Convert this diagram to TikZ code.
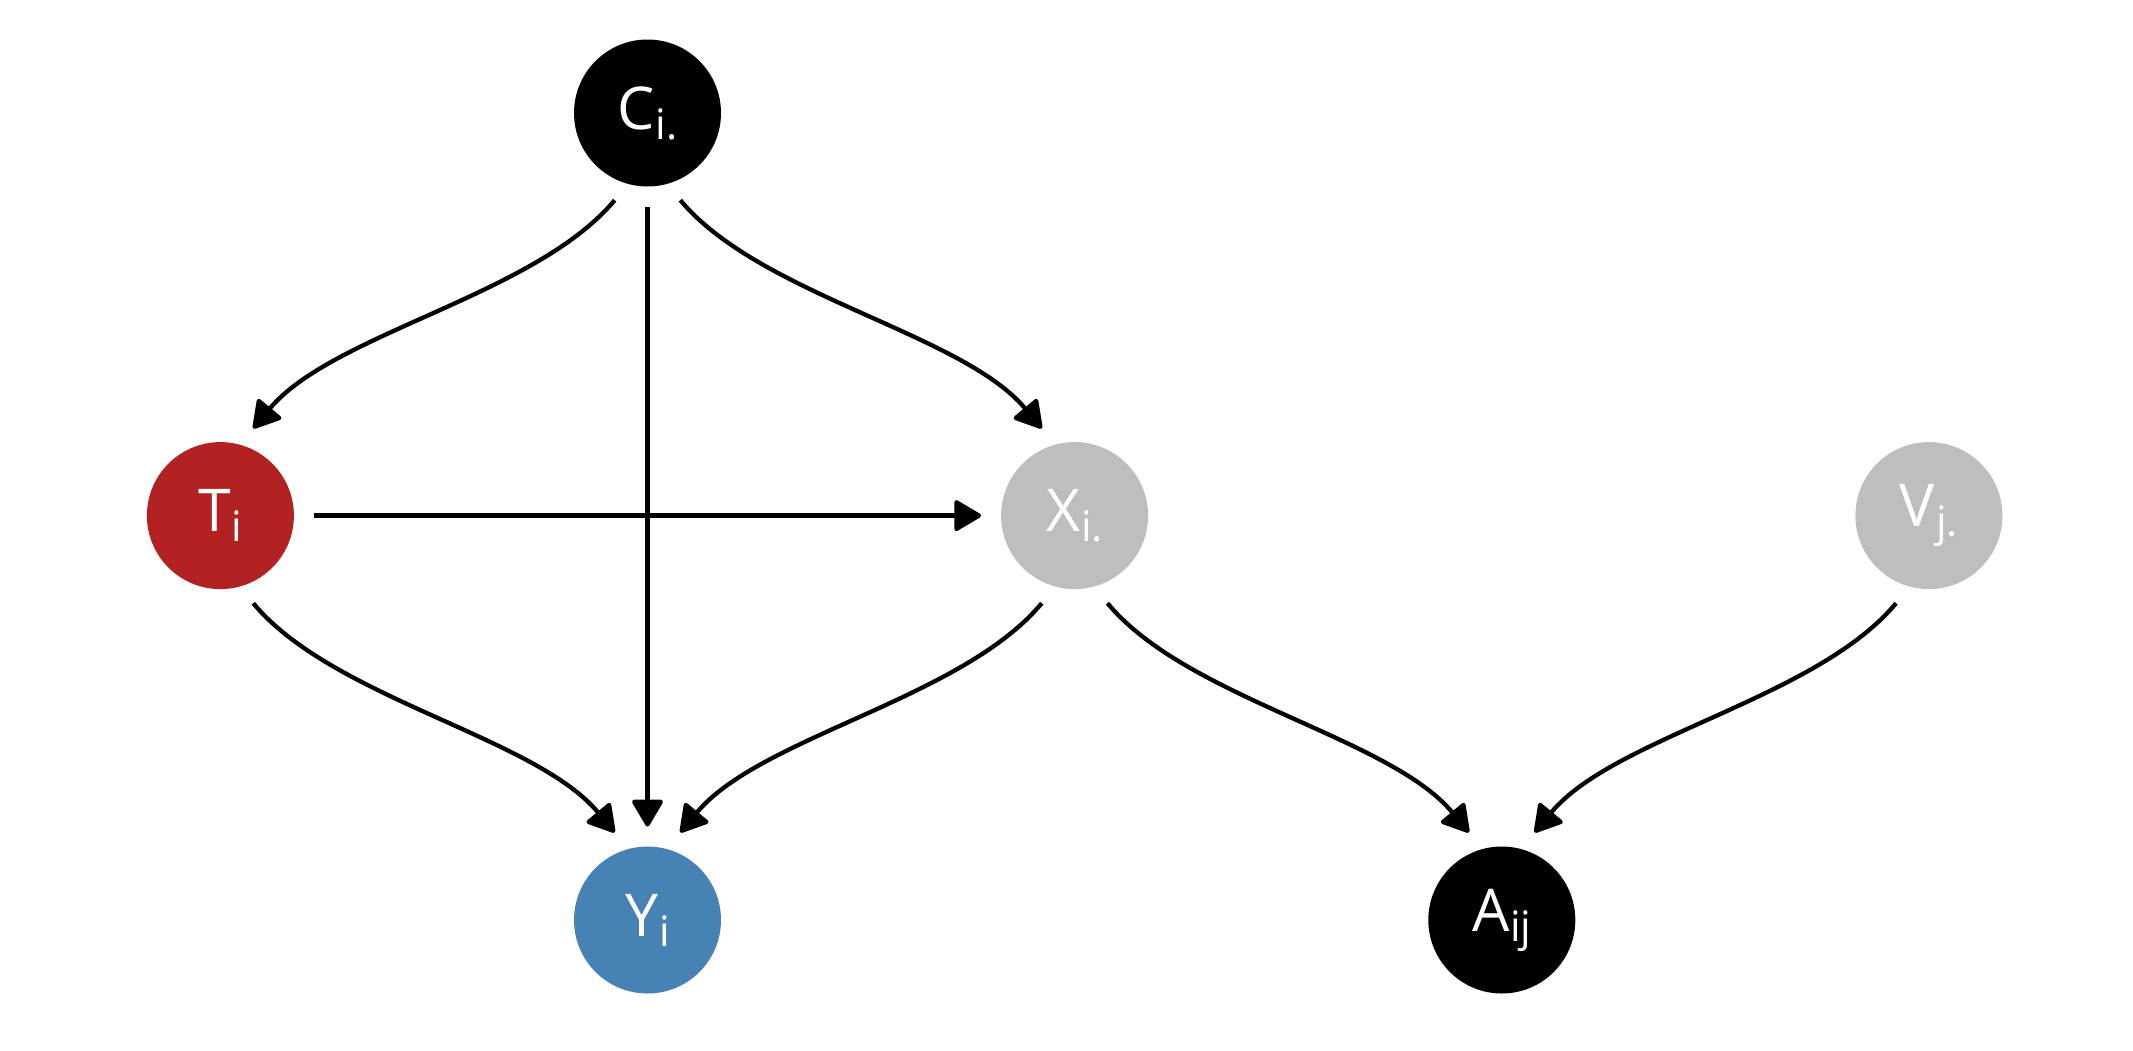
\documentclass[tikz,border=0pt]{standalone}
\usepackage{fontspec}
\setmainfont{Open Sans}
\usetikzlibrary{arrows.meta,calc}
\definecolor{tred}{HTML}{B22222}
\definecolor{yblue}{HTML}{4682B4}
\definecolor{lgray}{HTML}{BEBEBE}
\newcommand\subtxt[1]{\kern1pt\raisebox{-10pt}{\fontsize{42}{42}\selectfont #1}}
\newcommand\dagarc[2]{\draw[edge] let \p1=(#1.center), \p2=(#2.center) in
  ({\x1+0.076874*(\x2-\x1)},{\y1+0.216563*(\y2-\y1)})
  .. controls ({\x1+0.263126*(\x2-\x1)},{\y1+0.453437*(\y2-\y1)})
  and ({\x1+0.736874*(\x2-\x1)},{\y1+0.546563*(\y2-\y1)})
  .. ({\x1+0.923126*(\x2-\x1)},{\y1+0.783437*(\y2-\y1)});}
\begin{document}
\begin{tikzpicture}[x=1pt,y=-1pt,
  dagnode/.style={circle, minimum size=147pt, inner sep=0pt, outer sep=20pt,
    text=white, font=\fontsize{59}{62}\selectfont},
  edge/.style={line width=4.3pt, -{Triangle[length=29pt,width=33pt,round]}}]
\useasboundingbox (0,0) rectangle (2133,1050);
\node[dagnode, fill=black] (C) at (647.5,113) {C\subtxt{i.}};
\node[dagnode, fill=tred] (T) at (220.4,515.6) {T\subtxt{i}};
\node[dagnode, fill=lgray] (X) at (1074.6,515.6) {X\subtxt{i.}};
\node[dagnode, fill=lgray] (V) at (1928.9,515.6) {V\subtxt{j.}};
\node[dagnode, fill=yblue] (Y) at (647.5,920) {Y\subtxt{i}};
\node[dagnode, fill=black] (A) at (1501.8,920) {A\subtxt{ij}};
\draw[edge] (C) -- (Y);
\draw[edge] (T) -- (X);
\dagarc{C}{T}
\dagarc{C}{X}
\dagarc{T}{Y}
\dagarc{X}{Y}
\dagarc{X}{A}
\dagarc{V}{A}
\end{tikzpicture}
\end{document}
